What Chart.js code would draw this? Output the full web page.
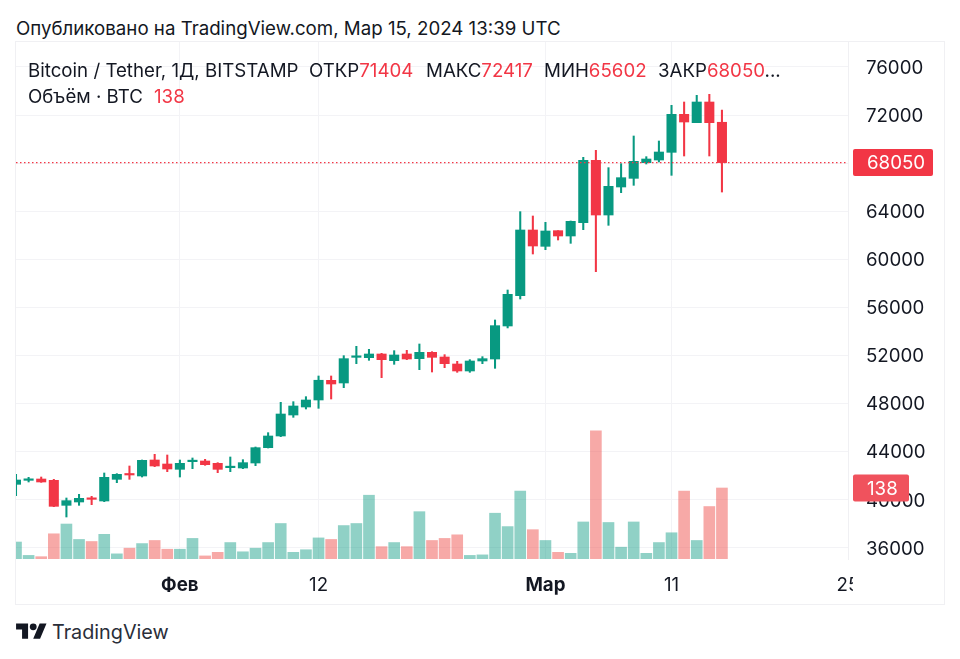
<!DOCTYPE html>
<html lang="ru">
<head>
<meta charset="utf-8">
<title>Bitcoin / Tether</title>
<script src="https://cdn.jsdelivr.net/npm/chart.js@4/dist/chart.umd.js"></script>
<style>
    html, body { margin: 0; padding: 0; background: #fff; }
    body { width: 960px; height: 659px; position: relative; overflow: hidden; font-family: Inter, sans-serif; color: #131722; }
    #published { position: absolute; left: 16px; top: 18px; font-size: 18.7px; line-height: 22px; white-space: nowrap; }
    #frame { position: absolute; left: 16px; top: 42px; width: 928px; height: 562px; outline: 1px solid #f0f0f3; }
    #frame canvas { position: absolute; left: 0; top: 0; }
    .legend { position: absolute; left: 28px; font-size: 18.7px; line-height: 22px; white-space: nowrap; }
    .legend span { position: absolute; top: 0; }
    .red { color: #f23645; }
    #logo { position: absolute; left: 16px; top: 620px; }
    #brand { position: absolute; left: 52px; top: 619px; font-size: 19.8px; line-height: 26px; color: #2a2e39; }
</style>
</head>
<body>
<div id="published">Опубликовано на TradingView.com, Мар 15, 2024 13:39 UTC</div>
<div id="frame"><canvas id="btcChart" width="928" height="562"></canvas></div>
<div class="legend" style="top:60px">
    <span style="left:0">Bitcoin&nbsp;/&nbsp;Tether,&nbsp;1Д,&nbsp;BITSTAMP</span>
    <span style="left:281px">ОТКР<b class="red" style="font-weight:400">71404</b></span>
    <span style="left:398px">МАКС<b class="red" style="font-weight:400">72417</b></span>
    <span style="left:516px">МИН<b class="red" style="font-weight:400">65602</b></span>
    <span style="left:630px">ЗАКР<b class="red" style="font-weight:400">68050</b>...</span>
</div>
<div class="legend" style="top:86px">
    <span style="left:0">Объём&nbsp;·&nbsp;BTC</span>
    <span class="red" style="left:126px">138</span>
</div>
<svg id="logo" width="31" height="24" viewBox="0 0 36 28"><path fill="#131722" d="M14 22H7V11H0V4h14v18zM28 22h-8l7.5-18h8L28 22z"/><circle fill="#131722" cx="20" cy="8" r="4"/></svg>
<div id="brand">TradingView</div>

<script>
// Дневные свечи с 19 января по 15 марта 2024
const dates = [
    '19 янв', '20 янв', '21 янв', '22 янв', '23 янв', '24 янв', '25 янв', '26 янв', '27 янв', '28 янв', '29 янв', '30 янв', '31 янв',
    '1 фев', '2 фев', '3 фев', '4 фев', '5 фев', '6 фев', '7 фев', '8 фев', '9 фев', '10 фев', '11 фев', '12 фев', '13 фев', '14 фев', '15 фев',
    '16 фев', '17 фев', '18 фев', '19 фев', '20 фев', '21 фев', '22 фев', '23 фев', '24 фев', '25 фев', '26 фев', '27 фев', '28 фев', '29 фев',
    '1 мар', '2 мар', '3 мар', '4 мар', '5 мар', '6 мар', '7 мар', '8 мар', '9 мар', '10 мар', '11 мар', '12 мар', '13 мар', '14 мар', '15 мар',
    '16 мар', '17 мар', '18 мар', '19 мар', '20 мар', '21 мар', '22 мар', '23 мар', '24 мар', '25 мар'
];
const opens = [
    41295, 41627, 41738, 41627, 39548, 39825, 40103, 39908, 41710, 42182, 41988, 43318, 42985,
    42542, 43180, 43235, 43041, 42680, 42653, 43069, 44344, 45314, 47060, 47726, 48308, 49943, 49722, 51856,
    51828, 52133, 51579, 52133, 51745, 52272, 51884, 51302, 50720, 51551, 51717, 54462, 56984, 62445,
    61087, 62390, 61946, 63055, 68238, 63692, 66021, 66741, 68044, 68266, 68904, 72064, 71371, 73089, 71404
];
const closes = [
    41655, 41738, 41489, 39465, 39936, 40130, 40047, 41877, 42126, 42071, 43290, 42819, 42570,
    43041, 43262, 42930, 42542, 42791, 43097, 44344, 45314, 47143, 47809, 48308, 49950, 49639, 51745, 51967,
    52133, 51662, 52050, 51717, 52272, 51856, 51330, 50720, 51551, 51745, 54490, 57095, 62445, 61114,
    62362, 61946, 63166, 68238, 63692, 66076, 66797, 68155, 68349, 68931, 72064, 71426, 73089, 71371, 68050
];
const highs = [
    42126, 41877, 41904, 41710, 40158, 40463, 40297, 42237, 42182, 42819, 43318, 43790, 43734,
    43318, 43485, 43374, 43097, 43568, 43346, 44399, 45591, 48114, 48169, 48585, 50304, 50304, 51995, 52771,
    52521, 52189, 52411, 52438, 52965, 52327, 52078, 51523, 51662, 51911, 54961, 57455, 63970, 63609,
    63083, 62390, 63193, 68488, 69070, 67629, 67961, 70262, 68543, 69846, 72812, 73089, 73644, 73727, 72417
];
const lows = [
    40352, 41489, 41461, 39437, 38578, 39548, 39604, 39853, 41433, 41710, 41904, 42764, 42348,
    41904, 42598, 42875, 42265, 42348, 42597, 42847, 44316, 45259, 46866, 47559, 47615, 48391, 49334, 51330,
    51607, 50165, 51274, 51662, 50831, 50636, 50997, 50609, 50609, 51330, 50941, 54300, 56707, 60449,
    60809, 61613, 61336, 62473, 58980, 62833, 65550, 66160, 67933, 68100, 66991, 68599, 71371, 68599, 65602
];
const volumes = [
    33, 7, 4.5, 49, 68, 38, 34, 48, 10, 21, 30, 36, 19,
    19, 40, 6, 13, 32, 14, 21, 32, 69, 13, 18, 41, 38, 65, 69,
    124, 24, 32, 24, 92, 36, 40, 47, 7, 8, 89, 63, 132, 57,
    36, 13, 11, 72, 249, 71, 23, 72, 11, 32, 51, 132, 36, 102, 138
];
const priceTicks = [36000, 40000, 44000, 48000, 52000, 56000, 60000, 64000, 68000, 72000, 76000];
const timeLabels = { '1 фев': 'Фев', '12 фев': '12', '1 мар': 'Мар', '11 мар': '11', '25 мар': '25' };
const boldLabels = ['Фев', 'Мар'];

const GREEN = '#089981';
const RED = '#f23645';
const GRID = '#f3f3f6';
const FONT = 'Inter, sans-serif';
const lastClose = closes[closes.length - 1];
const lastVolume = volumes[volumes.length - 1];

function isUp(i) {
    return closes[i] >= opens[i];
}

// Ценники справа и обрезка подписи времени у края панели
const overlayPlugin = {
    id: 'overlay',
    afterDraw(chart) {
        const { ctx, scales } = chart;
        const area = chart.chartArea;
        ctx.save();
        ctx.fillStyle = '#fff';
        ctx.fillRect(837, area.bottom + 1, 90, 40);
        drawTag(ctx, String(lastClose), scales.y.getPixelForValue(lastClose), 80, RED);
        drawTag(ctx, String(lastVolume), scales.volume.getPixelForValue(lastVolume), 56, '#f0525d');
        ctx.restore();
    }
};

function drawTag(ctx, text, y, width, color) {
    ctx.fillStyle = color;
    ctx.beginPath();
    ctx.roundRect(837, y - 13.5, width, 27, 2);
    ctx.fill();
    ctx.fillStyle = '#fff';
    ctx.font = '18.7px ' + FONT;
    ctx.textAlign = 'left';
    ctx.textBaseline = 'middle';
    ctx.fillText(text, 851, y + 1);
}

// Подписи не должны добавлять отступы к области графика
function clearPadding(scale) {
    scale.paddingTop = 0;
    scale.paddingBottom = 0;
    scale.paddingLeft = 0;
    scale.paddingRight = 0;
}

new Chart(document.getElementById('btcChart'), {
    type: 'bar',
    data: {
        labels: dates,
        datasets: [
            {
                type: 'line',
                data: dates.map(() => lastClose),
                yAxisID: 'y',
                borderColor: RED,
                borderWidth: 1.2,
                borderDash: [1.5, 2.5],
                pointRadius: 0,
                order: 0
            },
            {
                data: opens.map((o, i) => [o, closes[i]]),
                yAxisID: 'y',
                backgroundColor: opens.map((o, i) => isUp(i) ? GREEN : RED),
                barThickness: 9.4,
                minBarLength: 1.5,
                grouped: false,
                order: 1
            },
            {
                data: lows.map((l, i) => [l, highs[i]]),
                yAxisID: 'y',
                backgroundColor: lows.map((l, i) => isUp(i) ? GREEN : RED),
                barThickness: 1.4,
                grouped: false,
                order: 2
            },
            {
                data: volumes,
                yAxisID: 'volume',
                backgroundColor: volumes.map((v, i) => isUp(i) ? 'rgba(8, 153, 129, 0.45)' : 'rgba(239, 83, 80, 0.5)'),
                barThickness: 11,
                grouped: false,
                order: 3
            }
        ]
    },
    options: {
        responsive: false,
        animation: false,
        events: [],
        plugins: {
            legend: { display: false },
            tooltip: { enabled: false }
        },
        scales: {
            x: {
                offset: false,
                afterFit(scale) { scale.height = 45; clearPadding(scale); },
                grid: { offset: false, drawTicks: false, color: GRID },
                border: { display: false },
                ticks: {
                    autoSkip: false,
                    maxRotation: 0,
                    padding: 15,
                    color: '#131722',
                    font: (c) => ({
                        family: FONT,
                        size: 18.7,
                        weight: c.tick && boldLabels.includes(c.tick.label) ? '700' : '400'
                    }),
                    callback: (value, index) => timeLabels[dates[index]] || null
                }
            },
            y: {
                position: 'right',
                min: 35085,
                max: 78079,
                afterFit(scale) { scale.width = 96; clearPadding(scale); },
                afterBuildTicks(scale) { scale.ticks = priceTicks.map((v) => ({ value: v })); },
                grid: { color: GRID, drawTicks: false },
                border: { display: true, color: '#f0f0f3' },
                ticks: {
                    padding: 18,
                    labelOffset: 1,
                    color: '#131722',
                    font: { family: FONT, size: 18.7 },
                    callback: (value) => String(value)
                }
            },
            volume: {
                display: false,
                min: 0,
                max: 1005,
                grid: { display: false }
            }
        }
    },
    plugins: [overlayPlugin]
});
</script>
</body>
</html>
